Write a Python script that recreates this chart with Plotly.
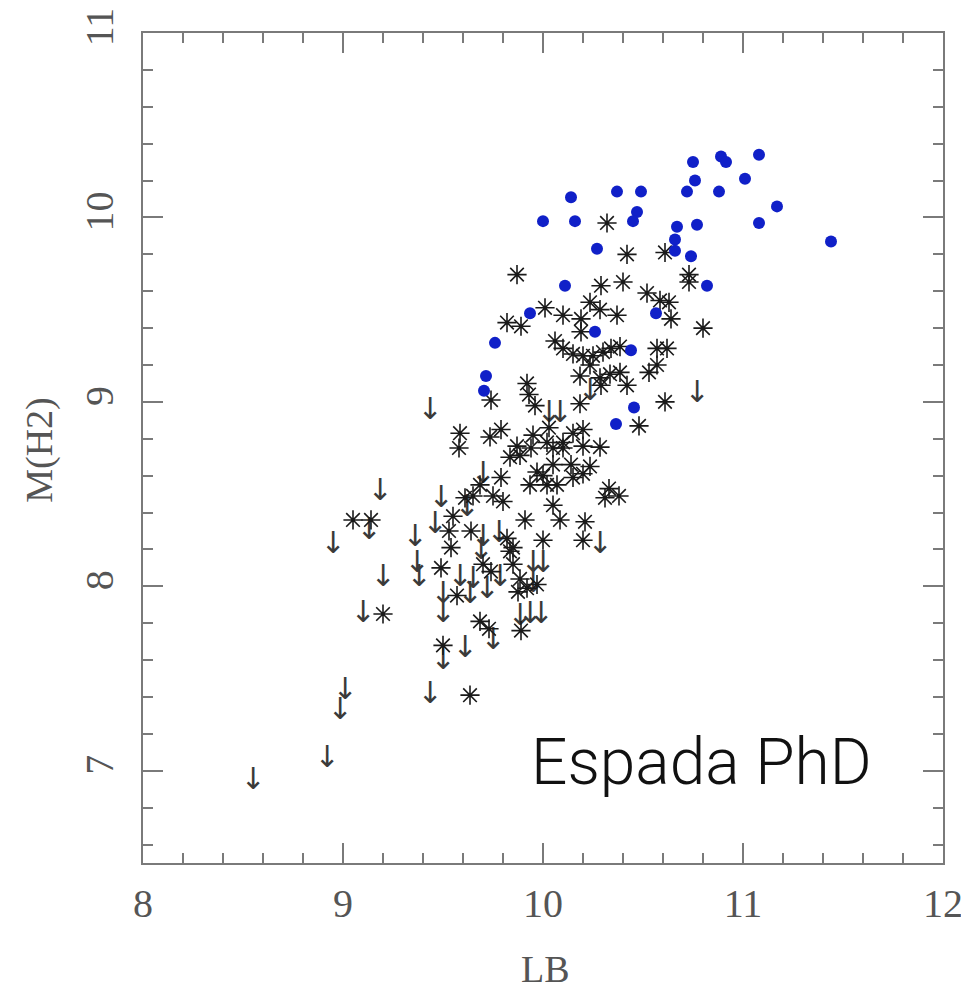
import plotly.graph_objects as go

# Blue filled circles (LB, M(H2))
blue_lb = [10.75, 10.89, 10.915, 11.08, 10.76, 11.01, 10.14, 10.37, 10.49, 10.72, 10.88, 11.17,
           10.00, 10.16, 10.47, 10.45, 10.67, 10.77, 11.08, 10.66, 10.66, 10.74, 11.44, 10.27,
           10.11, 10.82, 9.935, 10.565, 9.76, 10.26, 10.44, 9.715, 9.705, 10.455, 10.365]
blue_mh2 = [10.30, 10.33, 10.30, 10.34, 10.20, 10.21, 10.11, 10.14, 10.14, 10.14, 10.14, 10.06,
            9.98, 9.98, 10.03, 9.98, 9.95, 9.96, 9.97, 9.88, 9.82, 9.79, 9.87, 9.83,
            9.63, 9.63, 9.48, 9.48, 9.32, 9.38, 9.28, 9.14, 9.06, 8.97, 8.88]

# Detections (asterisks)
det_lb = [10.32, 10.42, 10.61, 9.87, 10.29, 10.40, 10.73, 10.73, 10.52, 10.585, 10.63, 10.64,
          10.80, 10.235, 10.285, 10.37, 10.01, 10.10, 10.19, 9.82, 9.89, 10.19, 10.06,
          10.10, 10.15, 10.20, 10.25, 10.30, 10.34, 10.385, 10.57, 10.62, 10.235, 10.185,
          10.285, 10.335, 10.385, 10.53, 10.57, 10.29, 10.42, 10.61,
          9.74, 9.92, 9.93, 9.96, 10.185, 10.48, 9.585, 9.58, 9.735, 9.79, 9.87, 9.95,
          10.03, 10.10, 10.15, 10.20, 10.285, 10.05, 9.835, 9.885, 10.05, 10.235, 10.0,
          10.07, 10.15, 10.20, 9.935, 10.05, 10.085, 10.21, 10.20, 10.33, 10.38, 10.31,
          10.0, 9.79, 9.685, 9.61, 9.65, 9.75, 9.55, 9.05, 9.14, 9.53, 9.54, 9.49, 9.20,
          9.50, 9.685, 9.73, 9.89, 9.57, 9.70, 9.74, 9.82, 9.835, 9.85, 9.885, 9.875,
          9.92, 9.635, 10.20, 9.80, 9.64, 9.91, 9.85, 9.97, 9.97, 10.02, 10.14, 9.94,
          10.02, 10.10]
det_mh2 = [9.97, 9.80, 9.81, 9.69, 9.63, 9.65, 9.69, 9.65, 9.59, 9.55, 9.54, 9.45,
           9.40, 9.54, 9.50, 9.47, 9.51, 9.47, 9.45, 9.43, 9.41, 9.38, 9.33,
           9.29, 9.26, 9.25, 9.25, 9.27, 9.29, 9.30, 9.29, 9.29, 9.20, 9.14,
           9.13, 9.15, 9.16, 9.16, 9.20, 9.09, 9.09, 9.00,
           9.01, 9.10, 9.04, 8.98, 8.99, 8.87, 8.83, 8.75, 8.81, 8.85, 8.76, 8.82,
           8.86, 8.78, 8.83, 8.85, 8.755, 8.75, 8.70, 8.71, 8.66, 8.65, 8.60,
           8.55, 8.59, 8.61, 8.55, 8.44, 8.36, 8.35, 8.25, 8.53, 8.49, 8.48,
           8.25, 8.59, 8.55, 8.48, 8.49, 8.49, 8.38, 8.36, 8.36, 8.30, 8.21, 8.10, 7.85,
           7.68, 7.81, 7.77, 7.76, 7.95, 8.12, 8.08, 8.26, 8.19, 8.12, 8.04, 7.97,
           7.99, 7.41, 8.76, 8.46, 8.30, 8.36, 8.21, 8.01, 8.62, 8.55, 8.66, 8.75,
           8.78, 8.75]

# Upper limits (down arrows)
lim_lb = [10.235, 10.77, 9.435, 10.03, 10.085, 10.285, 9.70, 9.62, 9.185, 9.13, 8.95, 9.36,
          9.37, 9.38, 9.49, 9.46, 9.20, 9.10, 9.50, 9.50, 9.50, 9.61, 9.75, 9.885, 9.935,
          9.99, 9.585, 9.65, 9.635, 9.70, 9.69, 9.785, 9.95, 10.0, 9.95, 9.78, 9.01,
          8.985, 9.435, 8.92, 8.55, 9.72]
lim_mh2 = [9.05, 9.04, 8.95, 8.93, 8.93, 8.22, 8.60, 8.42, 8.51, 8.30, 8.22, 8.26,
           8.12, 8.04, 8.47, 8.33, 8.04, 7.85, 7.95, 7.85, 7.59, 7.66, 7.70, 7.83, 7.84,
           7.84, 8.04, 8.03, 7.95, 8.26, 8.19, 8.04, 8.12, 8.12, 8.01, 8.28, 7.43,
           7.32, 7.41, 7.06, 6.94, 7.98]

x_ticks = [8, 9, 10, 11, 12]
y_ticks = [7, 8, 9, 10, 11]

axis_col = "#7a7a7a"
lab_font = dict(family="Liberation Serif", size=40, color="#555555")

fig = go.Figure()
fig.add_trace(go.Scatter(x=lim_lb, y=lim_mh2, mode="text", text=["↓"] * len(lim_lb),
                         textfont=dict(family="DejaVu Sans", size=30, color="#3a3a3a"),
                         textposition="middle center", hoverinfo="skip"))
fig.add_trace(go.Scatter(x=det_lb, y=det_mh2, mode="markers",
                         marker=dict(symbol="asterisk-open", size=16, color="#1a1a1a",
                                     line=dict(width=1.6, color="#1a1a1a"))))
fig.add_trace(go.Scatter(x=blue_lb, y=blue_mh2, mode="markers",
                         marker=dict(symbol="circle", size=12, color="#1020c8",
                                     line=dict(width=0))))

common = dict(showgrid=False, zeroline=False, showline=True, linecolor=axis_col, linewidth=2,
              mirror="allticks", ticks="inside", ticklen=20, tickwidth=1.5, tickcolor=axis_col,
              tickfont=lab_font, automargin=False, ticklabeloverflow="allow",
              minor=dict(dtick=0.2, ticks="inside", ticklen=10, tickwidth=1.5, tickcolor=axis_col))

fig.update_layout(
    width=961, height=987, showlegend=False,
    paper_bgcolor="white", plot_bgcolor="white",
    margin=dict(l=135, r=26, t=25, b=132),
    xaxis=dict(range=[8, 12], tickvals=x_ticks, ticktext=[str(v) for v in x_ticks],
               ticklabelstandoff=4, **common),
    yaxis=dict(range=[6.5, 11], tickvals=y_ticks, ticktext=[str(v) for v in y_ticks],
               tickangle=-90, ticklabelstandoff=12, **common),
    annotations=[
        dict(text="M(H2)", xref="paper", yref="paper", x=-0.129, y=0.4976, showarrow=False,
             textangle=-90, font=dict(family="Liberation Serif", size=38, color="#555555"),
             xanchor="center", yanchor="middle"),
        dict(text="LB", xref="paper", yref="paper", x=0.5025, y=-0.128, showarrow=False,
             font=dict(family="Liberation Serif", size=38, color="#555555"),
             xanchor="center", yanchor="middle"),
        dict(text="Espada PhD", xref="x", yref="y", x=9.93, y=7.043, showarrow=False,
             font=dict(family="Roboto", size=64, color="#111111", weight=300),
             xanchor="left", yanchor="middle"),
    ],
)

fig.write_html("out.html")
